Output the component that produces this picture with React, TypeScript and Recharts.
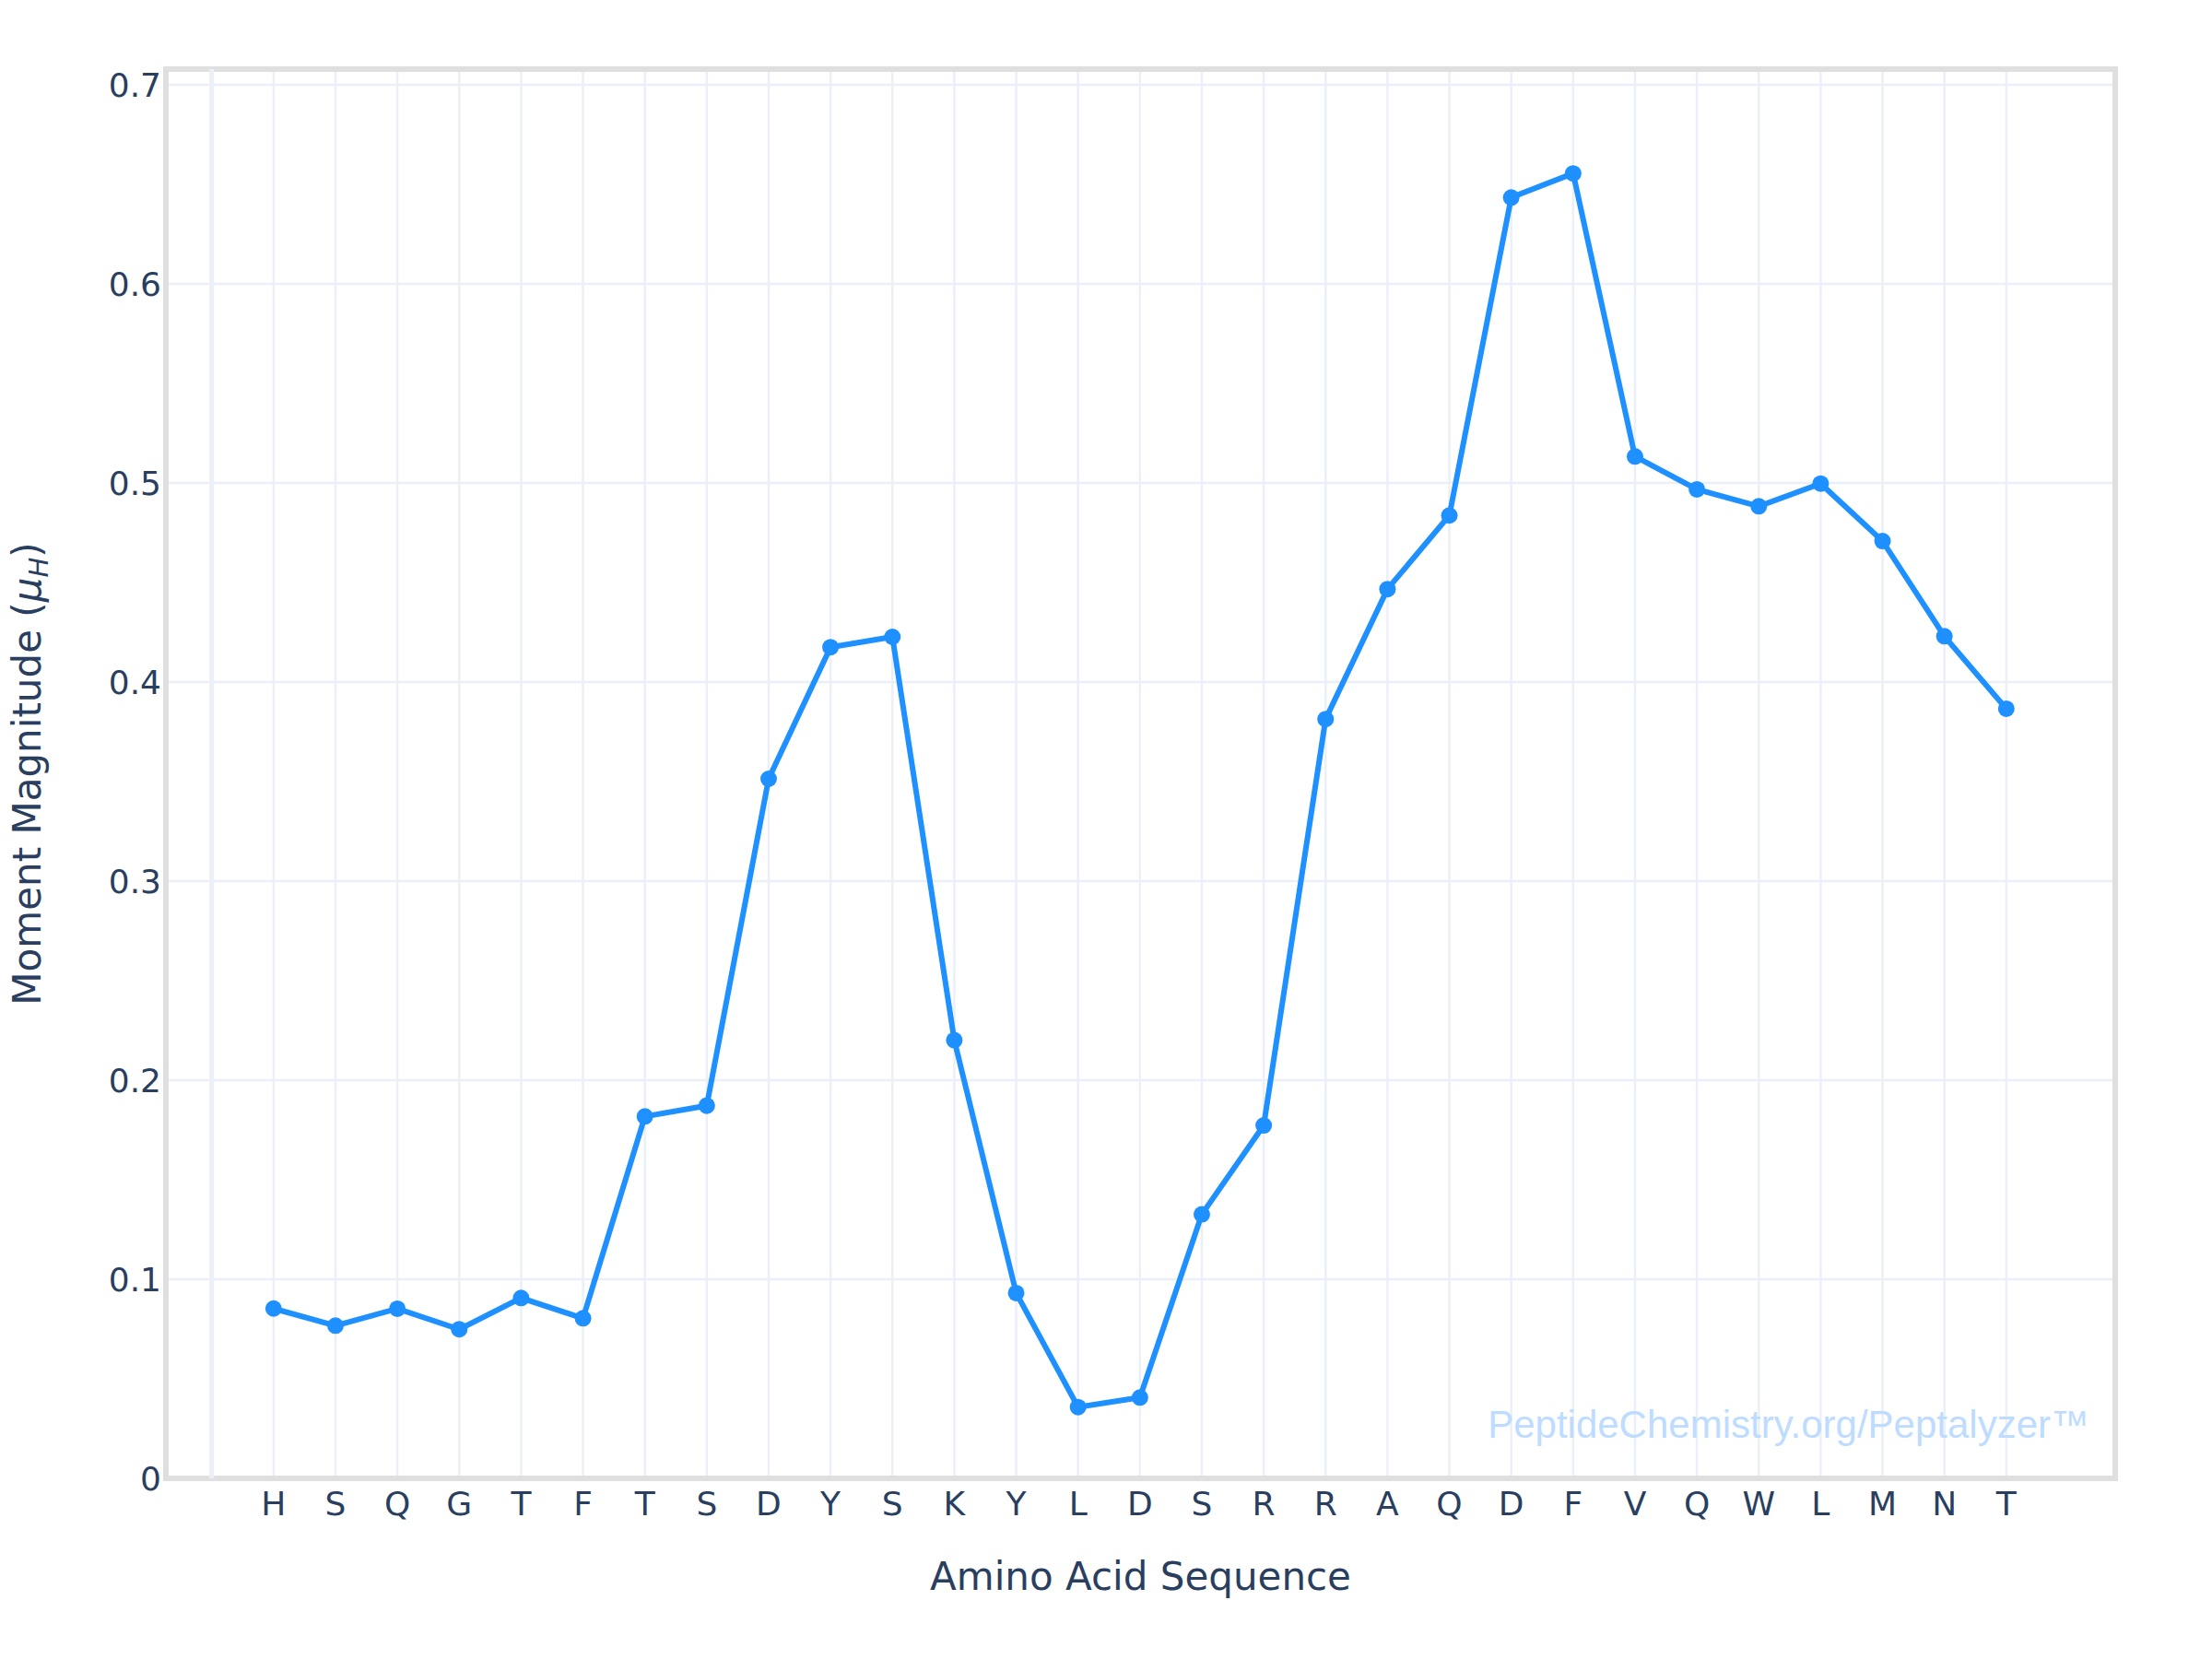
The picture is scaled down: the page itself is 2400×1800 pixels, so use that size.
import { CartesianGrid, Label, Line, LineChart, ReferenceArea, ReferenceLine, XAxis, YAxis } from 'recharts'

document.body.style.margin = '0'

const residues = ['H', 'S', 'Q', 'G', 'T', 'F', 'T', 'S', 'D', 'Y', 'S', 'K', 'Y', 'L', 'D', 'S', 'R', 'R', 'A', 'Q', 'D', 'F', 'V', 'Q', 'W', 'L', 'M', 'N', 'T']

const moments = [
  0.0853, 0.0767, 0.0852, 0.0749, 0.0906, 0.0804, 0.1818, 0.1872, 0.3514, 0.4175,
  0.4227, 0.2201, 0.0931, 0.0358, 0.0406, 0.1326, 0.1773, 0.3814, 0.4467, 0.4837,
  0.6434, 0.6555, 0.5133, 0.4968, 0.4883, 0.4997, 0.4708, 0.423, 0.3866,
]

const yTicks = [0, 0.1, 0.2, 0.3, 0.4, 0.5, 0.6, 0.7]

// plotly leaves an empty slot before the first residue, with its own gridline
const xTicks = [-1, ...residues.map((_, i) => i)]

const data = residues.map((residue, i) => ({ pos: i, residue, moment: moments[i] }))

const ink = '#2a3f5f'
const font = 'DejaVu Sans, Verdana, sans-serif'
const xDomain: [number, number] = [-1.74, 29.76]
const yDomain: [number, number] = [0, 0.7079]

export default function App() {
  return (
    <LineChart width={2400} height={1800} data={data} margin={{ top: 75, right: 105, bottom: 76, left: 30 }}>
      <CartesianGrid stroke='#ebf0f8' strokeWidth={2.5} />
      <ReferenceLine x={-1} stroke='#ebf0f8' strokeWidth={5} />
      <XAxis
        dataKey='pos'
        type='number'
        domain={xDomain}
        ticks={xTicks}
        interval={0}
        allowDataOverflow
        tickFormatter={(v) => residues[v] ?? ''}
        axisLine={false}
        tickLine={false}
        tickSize={0}
        tickMargin={14}
        height={120}
        tick={{ fill: ink, fontSize: 36, fontFamily: font }}
      >
        <Label
          content={() => (
            <text x={1237.5} y={1725} textAnchor='middle' fill={ink} fontSize={42} fontFamily={font}>
              Amino Acid Sequence
            </text>
          )}
        />
        <Label
          content={() => (
            <text x={2267} y={1560} textAnchor='end' fill='#bddcff' fontSize={42} fontFamily='Liberation Sans, Arial, sans-serif'>
              PeptideChemistry.org/Peptalyzer™
            </text>
          )}
        />
      </XAxis>
      <YAxis
        type='number'
        domain={yDomain}
        ticks={yTicks}
        allowDataOverflow
        width={150}
        axisLine={false}
        tickLine={false}
        tickSize={0}
        tickMargin={5}
        tickFormatter={(v) => `${v}`}
        tick={{ fill: ink, fontSize: 36, fontFamily: font }}
      >
        <Label
          content={() => (
            <text
              x={44}
              y={839.5}
              transform='rotate(-90, 44, 839.5)'
              textAnchor='middle'
              fill={ink}
              fontSize={42}
              fontFamily={font}
            >
              Moment Magnitude (<tspan fontStyle='italic'>μ</tspan>
              <tspan fontStyle='italic' fontSize={29} dy={8}>H</tspan>
              <tspan dy={-8}>)</tspan>
            </text>
          )}
        />
      </YAxis>
      <ReferenceArea
        x1={xDomain[0]}
        x2={xDomain[1]}
        y1={yDomain[0]}
        y2={yDomain[1]}
        fill='none'
        stroke='#dfdfdf'
        strokeWidth={6}
        ifOverflow='visible'
      />
      <Line
        type='linear'
        dataKey='moment'
        stroke='#1e90ff'
        strokeWidth={6}
        dot={{ r: 9, fill: '#1e90ff', strokeWidth: 0 }}
        activeDot={false}
        isAnimationActive={false}
      />
    </LineChart>
  )
}
